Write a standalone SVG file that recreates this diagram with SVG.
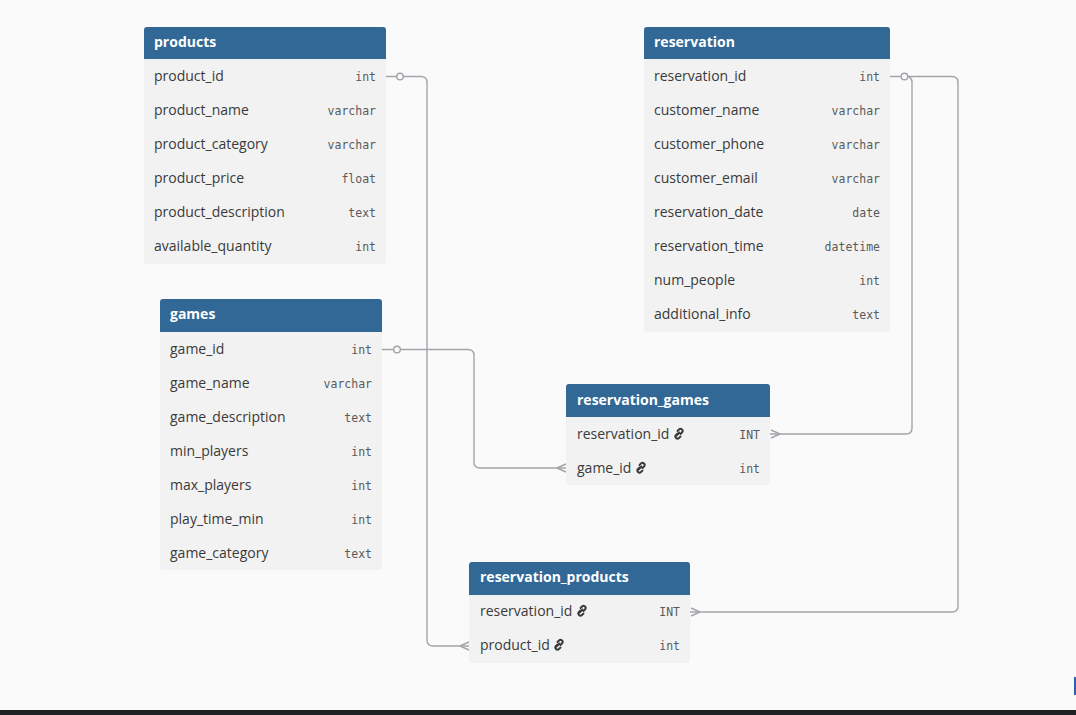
<svg xmlns="http://www.w3.org/2000/svg" width="1076" height="715" viewBox="0 0 1076 715">
<defs>
<style>
.hdr{fill:#316896}
.body{fill:#f2f2f2}
.title{font-family:"Open Sans","Noto Sans",sans-serif;font-weight:bold;font-size:14px;fill:#ffffff}
.name{font-family:"Open Sans","Noto Sans",sans-serif;font-size:14px;fill:#3a3a3a}
.type{font-family:"DejaVu Sans Mono","Liberation Mono",monospace;font-size:11.5px;fill:#5a5a5a;text-anchor:end}
.conn{fill:none;stroke:#a4a4aa;stroke-width:1.4}
.dot{fill:#fafafa;stroke:#a4a4aa;stroke-width:1.4}
.lnk{fill:none;stroke:#3a3a3a;stroke-width:1.9;stroke-linecap:round}
</style>
<g id="link">
<path class="lnk" d="M-0.5,1.5 L2.5,-1.5"/>
<path class="lnk" d="M0.5,-3 L2,-4.5 Q3.5,-6 5,-4.5 Q6.5,-3 5,-1.5 L3.5,0"/>
<path class="lnk" d="M0.5,-0.5 L-1,1 Q-2.5,2.5 -1,4 Q0.5,5.5 2,4 L3.5,2.5"/>
</g>
</defs>
<rect x="0" y="0" width="1076" height="715" fill="#fafafa"/>

<g id="connectors">
<path class="conn" d="M386,76.5 H421 Q427,76.5 427,82.5 V640 Q427,646 433,646 H469"/>
<path class="conn" d="M460,646 L469,642 M460,646 L469,650"/>
<path class="conn" d="M890,76.5 H952 Q958,76.5 958,82.5 V606 Q958,612 952,612 H690"/>
<path class="conn" d="M700,612 L691,608 M700,612 L691,616"/>
<path class="conn" d="M905,76.5 H906 Q912,76.5 912,82.5 V428 Q912,434 906,434 H770"/>
<path class="conn" d="M780,434 L771,430 M780,434 L771,438"/>
<path class="conn" d="M382,349.5 H468 Q474,349.5 474,355.5 V462 Q474,468 480,468 H566"/>
<path class="conn" d="M557,468 L566,464 M557,468 L566,472"/>
<circle class="dot" cx="400" cy="76.5" r="3.3"/>
<circle class="dot" cx="904.5" cy="76.5" r="3.3"/>
<circle class="dot" cx="397" cy="349.5" r="3.3"/>
</g>

<g id="products">
<rect class="body" x="144" y="27" width="242" height="237" rx="3"/>
<path class="hdr" d="M144,59 V30 Q144,27 147,27 H383 Q386,27 386,30 V59 Z"/>
<text class="title" x="154" y="47">products</text>
<text class="name" x="154" y="81">product_id</text><text class="type" x="376" y="81">int</text>
<text class="name" x="154" y="115">product_name</text><text class="type" x="376" y="115">varchar</text>
<text class="name" x="154" y="149">product_category</text><text class="type" x="376" y="149">varchar</text>
<text class="name" x="154" y="183">product_price</text><text class="type" x="376" y="183">float</text>
<text class="name" x="154" y="217">product_description</text><text class="type" x="376" y="217">text</text>
<text class="name" x="154" y="251">available_quantity</text><text class="type" x="376" y="251">int</text>
</g>

<g id="reservation">
<rect class="body" x="644" y="27" width="246" height="305" rx="3"/>
<path class="hdr" d="M644,59 V30 Q644,27 647,27 H887 Q890,27 890,30 V59 Z"/>
<text class="title" x="654" y="47">reservation</text>
<text class="name" x="654" y="81">reservation_id</text><text class="type" x="880" y="81">int</text>
<text class="name" x="654" y="115">customer_name</text><text class="type" x="880" y="115">varchar</text>
<text class="name" x="654" y="149">customer_phone</text><text class="type" x="880" y="149">varchar</text>
<text class="name" x="654" y="183">customer_email</text><text class="type" x="880" y="183">varchar</text>
<text class="name" x="654" y="217">reservation_date</text><text class="type" x="880" y="217">date</text>
<text class="name" x="654" y="251">reservation_time</text><text class="type" x="880" y="251">datetime</text>
<text class="name" x="654" y="285">num_people</text><text class="type" x="880" y="285">int</text>
<text class="name" x="654" y="319">additional_info</text><text class="type" x="880" y="319">text</text>
</g>

<g id="games">
<rect class="body" x="160" y="299" width="222" height="271" rx="3"/>
<path class="hdr" d="M160,332 V302 Q160,299 163,299 H379 Q382,299 382,302 V332 Z"/>
<text class="title" x="170" y="319">games</text>
<text class="name" x="170" y="354">game_id</text><text class="type" x="372" y="354">int</text>
<text class="name" x="170" y="388">game_name</text><text class="type" x="372" y="388">varchar</text>
<text class="name" x="170" y="422">game_description</text><text class="type" x="372" y="422">text</text>
<text class="name" x="170" y="456">min_players</text><text class="type" x="372" y="456">int</text>
<text class="name" x="170" y="490">max_players</text><text class="type" x="372" y="490">int</text>
<text class="name" x="170" y="524">play_time_min</text><text class="type" x="372" y="524">int</text>
<text class="name" x="170" y="558">game_category</text><text class="type" x="372" y="558">text</text>
</g>

<g id="reservation_games">
<rect class="body" x="566" y="384" width="204" height="101" rx="3"/>
<path class="hdr" d="M566,417 V387 Q566,384 569,384 H767 Q770,384 770,387 V417 Z"/>
<text class="title" x="577" y="405">reservation_games</text>
<text class="name" x="577" y="439">reservation_id</text><use href="#link" x="677" y="434"/><text class="type" x="760" y="439">INT</text>
<text class="name" x="577" y="473">game_id</text><use href="#link" x="639" y="468"/><text class="type" x="760" y="473">int</text>
</g>

<g id="reservation_products">
<rect class="body" x="469" y="562" width="221" height="101" rx="3"/>
<path class="hdr" d="M469,595 V565 Q469,562 472,562 H687 Q690,562 690,565 V595 Z"/>
<text class="title" x="480" y="582">reservation_products</text>
<text class="name" x="480" y="616">reservation_id</text><use href="#link" x="580" y="611"/><text class="type" x="680" y="616">INT</text>
<text class="name" x="480" y="650">product_id</text><use href="#link" x="557" y="645"/><text class="type" x="680" y="650">int</text>
</g>

<rect x="1074" y="677" width="2" height="18" fill="#2d5fb0"/>
<rect x="0" y="710" width="1076" height="5" fill="#202124"/>
</svg>
